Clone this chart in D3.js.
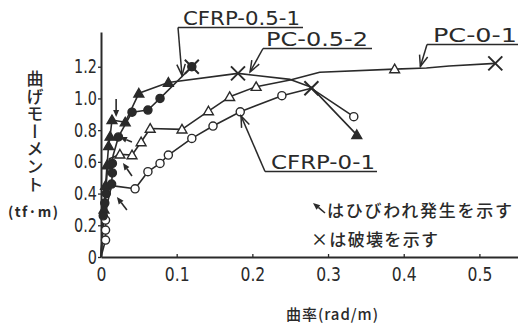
<!DOCTYPE html>
<html><head><meta charset="utf-8">
<script src="https://cdn.jsdelivr.net/npm/d3@7"></script>
<style>
html,body{margin:0;padding:0;background:#fff;}
svg{display:block;}
</style></head>
<body><svg id="chart" width="518" height="323"></svg>
<script>
// Moment–curvature curves of four prestressed beams.
// Each point: [curvature (rad/m), moment (tf·m), mark]
//   mark "m" = measured point (series symbol), "" = curve vertex, "x" = failure, "xm" = failure on a measured point
const xTicks = [0, 0.1, 0.2, 0.3, 0.4, 0.5];
const xTickLabels = ["0", "0.1", "0.2", "0.3", "0.4", "0.5"];
const yTicks = [0, 0.2, 0.4, 0.6, 0.8, 1.0, 1.2];
const yTickLabels = ["0", "0.2", "0.4", "0.6", "0.8", "1.0", "1.2"];

const seriesNames = ["CFRP-0-1", "PC-0-1", "PC-0.5-2", "CFRP-0.5-1"];

const cfrp01 = [
  [0, 0, ""], [0.006, 0.107, "m"], [0.006, 0.17, "m"], [0.006, 0.233, "m"], [0.008, 0.33, ""],
  [0.014, 0.45, ""], [0.045, 0.43, "m"], [0.062, 0.538, "m"], [0.078, 0.59, "m"], [0.089, 0.643, "m"],
  [0.12, 0.748, "m"], [0.148, 0.826, "m"], [0.184, 0.916, "m"], [0.239, 1.017, "m"],
  [0.278, 1.064, "x"], [0.334, 0.885, "m"]
];
const pc01 = [
  [0, 0, ""], [0.004, 0.3, ""], [0.008, 0.52, ""], [0.011, 0.62, ""], [0.025, 0.647, "m"],
  [0.041, 0.643, "m"], [0.053, 0.725, "m"], [0.065, 0.81, "m"], [0.107, 0.805, "m"],
  [0.142, 0.92, "m"], [0.170, 1.01, "m"], [0.205, 1.074, "m"], [0.25, 1.116, ""],
  [0.289, 1.165, ""], [0.388, 1.185, "m"], [0.43, 1.192, ""], [0.46, 1.205, ""], [0.521, 1.221, "x"]
];
const pc052 = [
  [0, 0, ""], [0.002, 0.15, ""], [0.004, 0.30, "m"], [0.006, 0.45, "m"], [0.008, 0.58, "m"],
  [0.010, 0.70, "m"], [0.012, 0.76, "m"], [0.0145, 0.864, "m"], [0.032, 0.85, "m"],
  [0.05, 1.032, "m"], [0.089, 1.10, "m"], [0.181, 1.158, "x"], [0.25, 1.12, ""],
  [0.278, 1.07, ""], [0.338, 0.77, "m"]
];
const cfrp051 = [
  [0, 0, ""], [0.003, 0.26, "m"], [0.005, 0.34, "m"], [0.007, 0.40, "m"], [0.014, 0.46, "m"],
  [0.015, 0.53, "m"], [0.015, 0.59, "m"], [0.016, 0.64, ""], [0.023, 0.757, "m"],
  [0.041, 0.913, "m"], [0.062, 0.927, "m"], [0.078, 1.0, "m"], [0.12, 1.2, "xm"]
];

// crack onset points marked by arrows
const crackPoints = [[0.020, 0.883], [0.025, 0.757], [0.029, 0.593], [0.021, 0.378]];

const legendLines = ["はひびわれ発生を示す", "×は破壊を示す"];
const xTitle = "曲率(rad/m)";
const yTitle = "曲げモーメント";
const yUnit = "(tf·m)";

// ---------------------------------------------------------------------------
const ink = "#2a2a2a";
const svg = d3.select("#chart");
const x = d3.scaleLinear().domain([0, 0.551]).range([101, 518]);
const y = d3.scaleLinear().domain([0, 1.419]).range([257, 32]);
const numFont = "'DejaVu Sans', sans-serif";
const jpFont = "'Noto Sans CJK JP', sans-serif";

// squeeze a text element horizontally to a fraction of its natural width
function squeeze(sel, k) {
  sel.each(function () {
    const w = this.getComputedTextLength();
    d3.select(this).attr("textLength", w * k).attr("lengthAdjust", "spacingAndGlyphs");
  });
}

// axes
const gx = svg.append("g").attr("transform", `translate(0,${y(0)})`)
  .call(d3.axisBottom(x).tickValues(xTicks).tickFormat((d, i) => xTickLabels[i])
    .tickSizeInner(-3).tickSizeOuter(0).tickPadding(11));
const gy = svg.append("g").attr("transform", `translate(${x(0)},0)`)
  .call(d3.axisLeft(y).tickValues(yTicks).tickFormat((d, i) => yTickLabels[i])
    .tickSizeInner(3).tickSizeOuter(0).tickPadding(1));
[gx, gy].forEach(g => {
  g.select(".domain").attr("stroke", ink).attr("stroke-width", 2);
  g.selectAll(".tick line").attr("stroke", ink).attr("stroke-width", 1.3);
  g.selectAll(".tick text").attr("fill", ink).style("font-family", numFont).style("font-size", "19px");
});
squeeze(gx.selectAll(".tick text"), 0.82);
squeeze(gy.selectAll(".tick text"), 0.76);

// curves
const line = d3.line().x(d => x(d[0])).y(d => y(d[1]));
const series = [
  { pts: cfrp01, sym: "circle", fill: "#fff" },
  { pts: pc01, sym: "triangle", fill: "#fff" },
  { pts: pc052, sym: "triangle", fill: ink },
  { pts: cfrp051, sym: "circle", fill: ink }
];
series.forEach(s => {
  svg.append("path").attr("d", line(s.pts)).attr("fill", "none")
    .attr("stroke", ink).attr("stroke-width", 1.6).attr("stroke-linejoin", "round");
});
series.forEach(s => {
  const gen = d3.symbol().type(s.sym === "circle" ? d3.symbolCircle : d3.symbolTriangle)
    .size(s.sym === "circle" ? 52 : 42);
  svg.append("g").selectAll("path")
    .data(s.pts.filter(d => d[2] === "m" || d[2] === "xm"))
    .join("path")
    .attr("transform", d => `translate(${x(d[0])},${y(d[1]) + (s.sym === "triangle" ? 0.8 : 0)})`)
    .attr("d", gen())
    .attr("fill", s.fill).attr("stroke", ink).attr("stroke-width", 1.4);
});
// failure crosses
const fails = [].concat(...series.map(s => s.pts.filter(d => d[2] === "x" || d[2] === "xm")));
svg.append("g").selectAll("path").data(fails).join("path")
  .attr("d", d => {
    const cx = x(d[0]), cy = y(d[1]), r = 7;
    return `M${cx - r},${cy - r}L${cx + r},${cy + r}M${cx - r},${cy + r}L${cx + r},${cy - r}`;
  })
  .attr("stroke", ink).attr("stroke-width", 2).attr("fill", "none");

// arrows
function solidArrow(tx, ty, fx, fy) {
  const a = Math.atan2(ty - fy, tx - fx), L = 7, h = 3;
  const bx = tx - L * Math.cos(a), by = ty - L * Math.sin(a);
  svg.append("line").attr("x1", fx).attr("y1", fy).attr("x2", bx).attr("y2", by)
    .attr("stroke", ink).attr("stroke-width", 1.6);
  svg.append("path")
    .attr("d", `M${tx},${ty}L${bx - h * Math.sin(a)},${by + h * Math.cos(a)}L${bx + h * Math.sin(a)},${by - h * Math.cos(a)}Z`)
    .attr("fill", ink);
}
function openArrow(pts) {
  svg.append("path").attr("d", d3.line()(pts)).attr("fill", "none")
    .attr("stroke", ink).attr("stroke-width", 1.5);
  const [tx, ty] = pts[pts.length - 1], [fx, fy] = pts[pts.length - 2];
  const a = Math.atan2(fy - ty, fx - tx), L = 12, s = 0.36;
  svg.append("path")
    .attr("d", `M${tx + L * Math.cos(a + s)},${ty + L * Math.sin(a + s)}L${tx},${ty}L${tx + L * Math.cos(a - s)},${ty + L * Math.sin(a - s)}`)
    .attr("fill", "none").attr("stroke", ink).attr("stroke-width", 1.5);
}
// crack arrows: tail offsets from tip
const crackTails = [[0, -18], [12, 5], [9, 13], [10, 13]];
crackPoints.forEach((p, i) => {
  const tx = x(p[0]), ty = y(p[1]);
  solidArrow(tx, ty, tx + crackTails[i][0], ty + crackTails[i][1]);
});

// series labels with underline and leader arrows
const labelDefs = [
  { name: seriesNames[3], x0: 183, w: 117, base: 25, ul: [178, 303], tip: [0.107, 1.145] },
  { name: seriesNames[2], x0: 266, w: 102, base: 46, ul: [263, 372], tip: [0.197, 1.167] },
  { name: seriesNames[1], x0: 433, w: 84, base: 42, ul: [427, 518], tip: [0.422, 1.201] },
  { name: seriesNames[0], x0: 271, w: 104, base: 169, ul: [265, 377], tip: [0.185, 0.89] }
];
labelDefs.forEach(l => {
  svg.append("text").attr("x", l.x0).attr("y", l.base).text(l.name)
    .attr("textLength", l.w).attr("lengthAdjust", "spacingAndGlyphs")
    .attr("fill", ink).style("font-family", numFont).style("font-size", "20px");
  const uy = l.base + 2.5;
  svg.append("line").attr("x1", l.ul[0]).attr("x2", l.ul[1]).attr("y1", uy).attr("y2", uy)
    .attr("stroke", ink).attr("stroke-width", 1.5);
  openArrow([[l.ul[0], uy], [x(l.tip[0]), y(l.tip[1])]]);
});

// legend
solidArrow(313, 203, 325, 213);
svg.append("text").attr("x", 327).attr("y", 217).text(legendLines[0])
  .attr("textLength", 185).attr("lengthAdjust", "spacing")
  .attr("fill", ink).style("font-family", jpFont).style("font-size", "17px").style("font-weight", "500");
svg.append("text").attr("x", 311).attr("y", 246).text(legendLines[1])
  .attr("textLength", 127).attr("lengthAdjust", "spacing")
  .attr("fill", ink).style("font-family", jpFont).style("font-size", "17px").style("font-weight", "500");

// axis titles
svg.append("text").attr("x", 332).attr("y", 320).attr("text-anchor", "middle").text(xTitle)
  .attr("textLength", 92).attr("lengthAdjust", "spacing")
  .attr("fill", ink).style("font-family", jpFont).style("font-size", "15px").style("font-weight", "500");
svg.append("text").attr("x", 35).attr("y", 70).text(yTitle)
  .style("writing-mode", "vertical-rl").style("text-orientation", "upright")
  .style("letter-spacing", "0.6px")
  .attr("fill", ink).style("font-family", jpFont).style("font-size", "17px").style("font-weight", "500");
svg.append("text").attr("x", 33).attr("y", 217).attr("text-anchor", "middle").text(yUnit)
  .attr("textLength", 50).attr("lengthAdjust", "spacing")
  .attr("fill", ink).style("font-family", jpFont).style("font-size", "14px").style("font-weight", "bold");
</script>
</body></html>
